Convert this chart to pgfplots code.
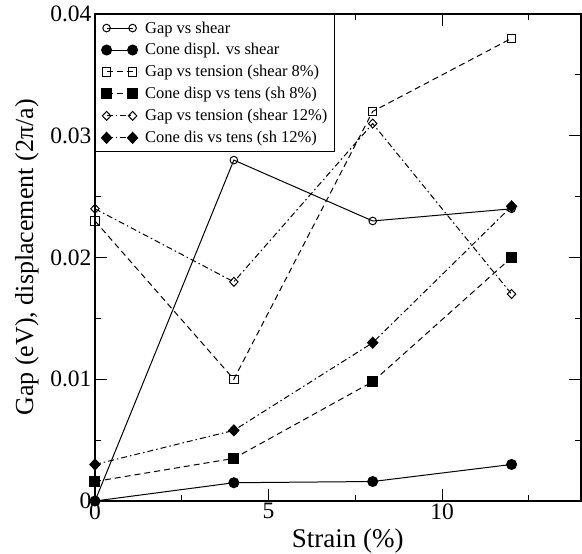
\documentclass[border=0pt]{standalone}
\usepackage{fontspec}
\setmainfont{Liberation Serif}
\usepackage{pgfplots}
\pgfplotsset{compat=1.18}
\begin{document}
\begin{tikzpicture}
\useasboundingbox (-95pt,-53pt) rectangle (487pt,501pt);
\begin{axis}[
  at={(0pt,0pt)}, anchor=south west,
  scale only axis,
  width=486pt, height=487pt,
  xmin=0, xmax=14, ymin=0, ymax=0.04,
  xtick={0,5,10}, minor xtick={2.5,7.5,12.5},
  ytick={0,0.01,0.02,0.03,0.04}, minor ytick={0.005,0.015,0.025,0.035},
  scaled y ticks=false,
  yticklabel style={/pgf/number format/fixed,/pgf/number format/precision=2},
  /pgf/number format/assume math mode=true,
  tick align=inside, tick pos=both,
  major tick length=12pt, minor tick length=6pt,
  axis line style={line width=1.4pt},
  every tick/.style={line width=1pt,black},
  tick label style={font=\fontsize{23.5}{25}\selectfont},
  xlabel={Strain (\%)},
  ylabel={Gap (eV), displacement (2π/a)},
  xlabel style={font=\fontsize{27}{30}\selectfont, at={(axis description cs:0.52,-0.082)}, anchor=center},
  ylabel style={font=\fontsize{26}{28}\selectfont, at={(axis description cs:-0.14,0.5)}, anchor=center},
  xticklabel style={yshift=1pt},
  legend style={at={(0,1)},anchor=north west,draw=black,line width=1.2pt,
    font=\fontsize{16.5}{18}\selectfont, row sep=5pt, inner xsep=5pt, inner ysep=5pt,
    cells={anchor=west}},
  legend image code/.code={\draw[#1,line width=1pt] plot coordinates {(0pt,0pt) (26pt,0pt)};
     \path (-5.5pt,0pt) (36pt,0pt);},
  every axis plot/.append style={line width=1pt,black},
]
\addplot[solid, mark=o, mark size=3.8pt, mark options={fill=white,solid}] coordinates {(0,0) (4,0.028) (8,0.023) (12,0.024)};
\addlegendentry{Gap vs shear}
\addplot[solid, mark=*, mark size=5pt, mark options={solid}] coordinates {(0,0) (4,0.0015) (8,0.0016) (12,0.003)};
\addlegendentry{Cone displ. vs shear}
\addplot[dash pattern=on 6pt off 4pt, mark=square, mark size=4.2pt, mark options={fill=white,solid}] coordinates {(0,0.023) (4,0.010) (8,0.032) (12,0.038)};
\addlegendentry{Gap vs tension (shear 8\%)}
\addplot[dash pattern=on 6pt off 4pt, mark=square*, mark size=5pt, mark options={solid}] coordinates {(0,0.0016) (4,0.0035) (8,0.0098) (12,0.020)};
\addlegendentry{Cone disp vs tens (sh 8\%)}
\addplot[dash pattern=on 6pt off 3pt on 1.5pt off 3pt, mark=diamond, mark size=4.5pt, mark options={fill=white,solid,xscale=1.25}] coordinates {(0,0.024) (4,0.018) (8,0.031) (12,0.017)};
\addlegendentry{Gap vs tension (shear 12\%)}
\addplot[dash pattern=on 6pt off 3pt on 1.5pt off 3pt, mark=diamond*, mark size=5.5pt, mark options={solid,xscale=1.25}] coordinates {(0,0.003) (4,0.0058) (8,0.013) (12,0.0242)};
\addlegendentry{Cone dis vs tens (sh 12\%)}
\end{axis}
\end{tikzpicture}
\end{document}
